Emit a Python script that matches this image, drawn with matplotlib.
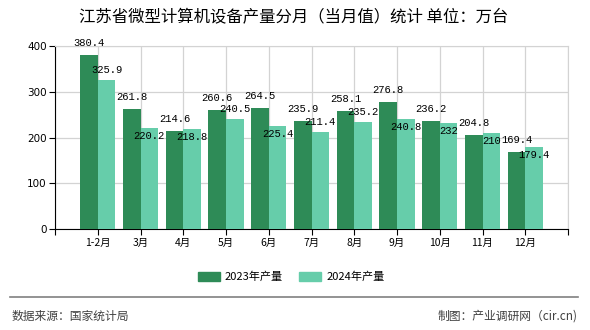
import numpy as np
import matplotlib as mpl
mpl.use('Agg')
import matplotlib.pyplot as plt
from matplotlib.patches import Patch

plt.rcParams['font.family'] = ['Noto Sans CJK SC', 'DejaVu Sans']

months = ['1-2月', '3月', '4月', '5月', '6月', '7月', '8月', '9月', '10月', '11月', '12月']
v2023 = [380.4, 261.8, 214.6, 260.6, 264.5, 235.9, 258.1, 276.8, 236.2, 204.8, 169.4]
v2024 = [325.9, 220.2, 218.8, 240.5, 225.4, 211.4, 235.2, 240.8, 232, 210, 179.4]
lbl2024 = ['325.9', '220.2', '218.8', '240.5', '225.4', '211.4', '235.2', '240.8', '232', '210', '179.4']
# label placement for the 2024 series (True = below bar top)
below2024 = [False, True, True, False, True, False, False, True, True, True, True]

c_dark = '#2E8B57'
c_light = '#66CDAA'
px = 0.72  # points per pixel at dpi 100

fig = plt.figure(figsize=(5.9, 3.3), dpi=100)
ax = fig.add_axes([55/590, 1-229.3/330, (568-55)/590, (229.3-46)/330])

x = np.arange(1, len(months)+1)
w = 0.41
ax.bar(x - w/2, v2023, w, color=c_dark, zorder=3)
ax.bar(x + w/2, v2024, w, color=c_light, zorder=3)

mono = ['Liberation Mono', 'DejaVu Sans Mono']
for xi, v in zip(x, v2023):
    ax.annotate('%g' % v, (xi - w/2, v), xytext=(0, 12*px), textcoords='offset points',
                ha='center', va='center', fontsize=7.6, family=mono, zorder=5)
for xi, v, t, b in zip(x, v2024, lbl2024, below2024):
    dy = -8 if b else 10
    ax.annotate(t, (xi + w/2, v), xytext=(0, dy*px), textcoords='offset points',
                ha='center', va='center', fontsize=7.6, family=mono, zorder=5)

ax.set_xlim(0, 12)
ax.set_ylim(0, 400)
ax.set_xticks(np.arange(0, 13))
ax.set_xticklabels([''] + months + [''], fontsize=7.5)
ax.set_yticks([0, 100, 200, 300, 400])
ax.set_yticklabels(['0', '100', '200', '300', '400'], fontsize=7.5, family=['DejaVu Sans'])
ax.tick_params(axis='x', length=4, width=0.8, pad=2)
ax.tick_params(axis='y', length=4, width=0.8, pad=2)
ax.grid(True, color='#D3D3D3', lw=0.9, zorder=0)
for s in ['top', 'right']:
    ax.spines[s].set_color('#D3D3D3')
ax.spines['left'].set_color('black')
ax.spines['bottom'].set_color('black')

fig.text(294/590, 1-18/330, '江苏省微型计算机设备产量分月（当月值）统计 单位：万台',
         ha='center', va='center', fontsize=11.8)

handles = [Patch(color=c_dark, label='2023年产量'), Patch(color=c_light, label='2024年产量')]
fig.legend(handles=handles, loc='center', bbox_to_anchor=(291/590, 1-277/330), ncol=2,
           frameon=False, fontsize=8, handlelength=2.0, handleheight=0.9,
           columnspacing=1.45, handletextpad=0.45)

fig.add_artist(plt.Line2D([10/590, 578/590], [1-297/330, 1-297/330],
                          color='#808080', lw=1.2, transform=fig.transFigure))
fig.text(12/590, 1-316/330, '数据来源：国家统计局', ha='left', va='center',
         fontsize=8.5, color='#404040')
fig.text(578/590, 1-316/330, '制图：产业调研网（cir.cn)', ha='right', va='center',
         fontsize=8.5, color='#404040')

fig.savefig('out.png', dpi=100)
